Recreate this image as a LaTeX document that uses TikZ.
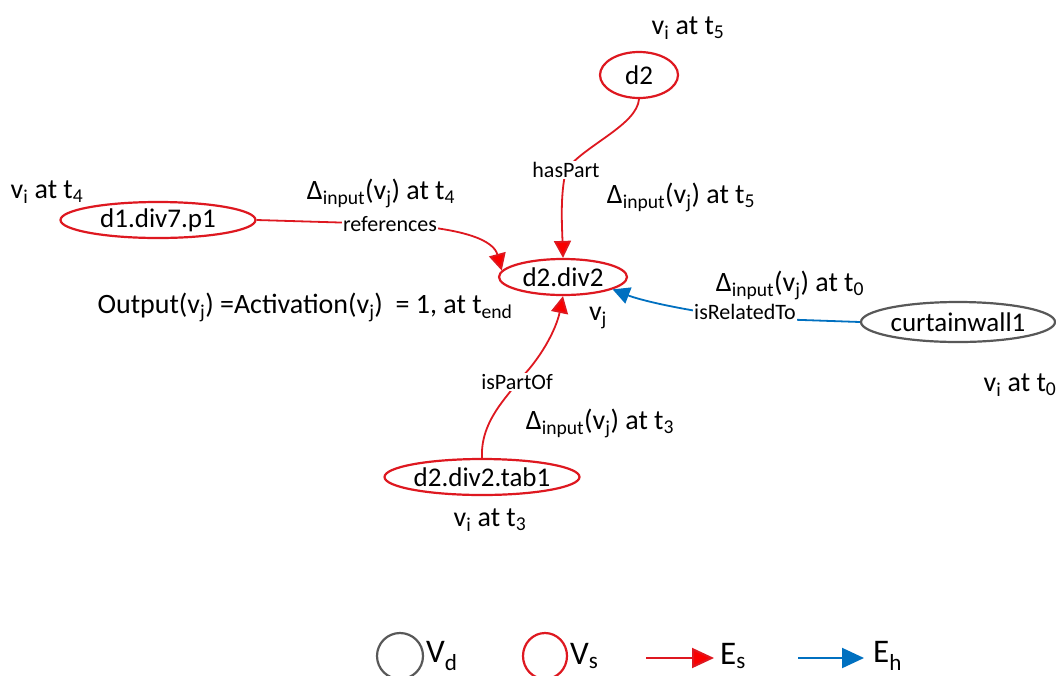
\documentclass[tikz,border=0pt]{standalone}
\usepackage{fontspec}
\setmainfont{Carlito}
\usetikzlibrary{shapes.geometric,arrows.meta}
\definecolor{sred}{RGB}{222,24,32}
\definecolor{tipred}{RGB}{250,0,0}
\definecolor{hblue}{RGB}{0,112,192}
\definecolor{dgray}{RGB}{88,88,88}
\begin{document}
\begin{tikzpicture}[x=1pt,y=-1pt,
  vs/.style={ellipse,draw=sred,line width=2.2pt,inner sep=0pt,font=\fontsize{27}{32}\selectfont},
  vd/.style={ellipse,draw=dgray,line width=2.2pt,inner sep=0pt,font=\fontsize{27}{32}\selectfont},
  lab/.style={font=\fontsize{28}{33}\selectfont,inner sep=1pt},
  leglab/.style={font=\fontsize{33}{38}\selectfont,inner sep=0pt,anchor=west},
  elab/.style={font=\fontsize{22}{26}\selectfont,fill=white,inner sep=1pt},
  es/.style={draw=sred,line width=1.8pt,-{Triangle[length=17pt,width=17pt,fill=tipred]}},
  eh/.style={draw=hblue,line width=1.8pt,-{Triangle[length=17pt,width=17pt]}},
  les/.style={draw=sred,line width=2pt,-{Triangle[length=22pt,width=20pt,fill=tipred]}},
  leh/.style={draw=hblue,line width=2pt,-{Triangle[length=22pt,width=20pt]}}
]
\useasboundingbox (0,0) rectangle (1056,675);
\fill[white] (0,0) rectangle (1056,675);

% nodes
\node[vs,minimum width=78pt,minimum height=46pt] (d2) at (639,75) {d2};
\node[vs,minimum width=195pt,minimum height=36pt] (p1) at (158,220) {d1.div7.p1};
\node[vs,minimum width=128pt,minimum height=36pt] (div2) at (563,277) {d2.div2};
\node[vd,minimum width=194pt,minimum height=40pt] (cw) at (958,322) {curtainwall1};
\node[vs,minimum width=195pt,minimum height=36pt] (tab1) at (482,477) {d2.div2.tab1};

% edges
\draw[es] (d2.south) .. controls (637,125) and (585,145) .. (566,170)
  .. controls (560,195) and (562,225) .. (div2.north);
\draw[es] (p1.east) -- (390,224) .. controls (470,228) and (494,242) .. (div2.174);
\draw[eh] (cw.west) -- (745,318) .. controls (680,310) and (640,300) .. (div2.-14);
\draw[es] (tab1.north) .. controls (480,420) and (510,395) .. (517,382)
  .. controls (540,360) and (556,330) .. (div2.south);

% edge labels
\node[elab] (lhp) at (566,170) {hasPart};
\node[elab] (lref) at (390,224) {references};
\node[elab] (lrel) at (745,312) {isRelatedTo};
\node[elab] (lpo) at (517,382) {isPartOf};

% annotations
\node[lab] (a5) at (688,28) {v\textsubscript{i} at t\textsubscript{5}};
\node[lab] (a4) at (47,192) {v\textsubscript{i} at t\textsubscript{4}};
\node[lab] (d4) at (381,193) {Δ\textsubscript{input}(v\textsubscript{j}) at t\textsubscript{4}};
\node[lab] (d5) at (681,197) {Δ\textsubscript{input}(v\textsubscript{j}) at t\textsubscript{5}};
\node[lab] (out) at (305,307) {Output(v\textsubscript{j}) =Activation(v\textsubscript{j})\ \ = 1, at t\textsubscript{end}};
\node[lab] (vj) at (598,318) {v\textsubscript{j}};
\node[lab] (d0) at (790,285) {Δ\textsubscript{input}(v\textsubscript{j}) at t\textsubscript{0}};
\node[lab] (a0) at (1020,385) {v\textsubscript{i} at t\textsubscript{0}};
\node[lab] (d3) at (600,423) {Δ\textsubscript{input}(v\textsubscript{j}) at t\textsubscript{3}};
\node[lab] (a3) at (490,520) {v\textsubscript{i} at t\textsubscript{3}};

% legend
\node[vd,minimum width=46pt,minimum height=46pt] (lgd) at (400,656) {};
\node[leglab] (lgdt) at (426,656) {V\textsubscript{d}};
\node[vs,minimum width=44pt,minimum height=46pt] (lgs) at (545,656) {};
\node[leglab] (lgst) at (570,656) {V\textsubscript{s}};
\coordinate (les0) at (646,658);
\node[leglab] (lest) at (720,656) {E\textsubscript{s}};
\draw[les] (les0) -- ([xshift=-6pt]lest.west |- les0);
\coordinate (leh0) at (798,658);
\node[leglab] (leht) at (873,656) {E\textsubscript{h}};
\draw[leh] (leh0) -- ([xshift=-9pt]leht.west |- leh0);
\end{tikzpicture}
\end{document}
